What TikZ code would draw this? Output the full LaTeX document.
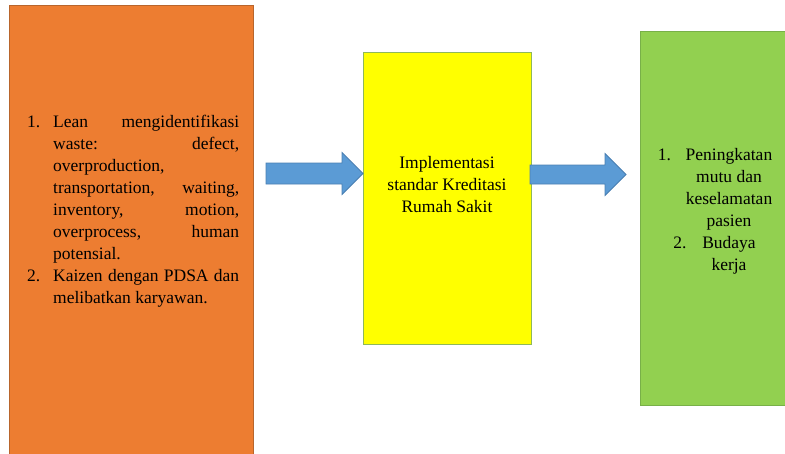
\documentclass[tikz,border=0pt]{standalone}
\usepackage{fontspec}
\setmainfont{Liberation Serif}
\usetikzlibrary{calc}
\definecolor{orangefill}{HTML}{ED7D31}
\definecolor{orangeline}{HTML}{B8652C}
\definecolor{yellowfill}{HTML}{FFFF00}
\definecolor{yellowline}{HTML}{8FB85A}
\definecolor{greenfill}{HTML}{92D050}
\definecolor{greenline}{HTML}{78B048}
\definecolor{arrowfill}{HTML}{5B9BD5}
\definecolor{arrowline}{HTML}{4A7FB2}
\begin{document}
\begin{tikzpicture}[x=1pt,y=-1pt,
  box/.style={rectangle,draw,line width=1pt,inner sep=0pt,anchor=north west},
  boxtext/.style={inner sep=0pt,font=\fontsize{17.5}{22}\selectfont},
  blockarrow/.style={fill=arrowfill,draw=arrowline,line width=0.8pt,line join=miter}]
\useasboundingbox (0,0) rectangle (785,453);
\begin{scope}
\clip (0,0) rectangle (785,453);
\node[box,fill=orangefill,draw=orangeline,minimum width=244pt,minimum height=470pt] (orange) at (9,5) {};
\node[box,fill=yellowfill,draw=yellowline,minimum width=168pt,minimum height=292pt] (yellow) at (363,52) {};
\node[box,fill=greenfill,draw=greenline,minimum width=170pt,minimum height=374pt] (green) at (640,31) {};
\end{scope}
% texts
\node[boxtext,anchor=base west,text width=186pt,align=justify] (otext) at (53,127)
 {\tolerance=10000\hyphenpenalty=10000\noindent\llap{\makebox[26pt][l]{1.}}Lean mengidentifikasi\linebreak
  waste: defect,\linebreak overproduction,\linebreak transportation, waiting,\linebreak
  inventory, motion,\linebreak overprocess, human\linebreak potensial.\par
  \noindent\llap{\makebox[26pt][l]{2.}}Kaizen dengan PDSA dan\linebreak melibatkan karyawan.};
\node[boxtext,anchor=base,align=center] (ytext) at (447,212)
 {Implementasi\\ standar Kreditasi\\ Rumah Sakit};
\node[boxtext,anchor=base,align=center] (gtext) at (729,270)
 {\llap{\makebox[28pt][l]{1.}}Peningkatan\\ mutu dan\\ keselamatan\\ pasien\\
  \llap{\makebox[29pt][l]{2.}}Budaya\\ kerja};
% arrows
\coordinate (a1s) at ($(orange.north east)+(12,168.5)$);
\coordinate (a1e) at (yellow.west |- a1s);
\coordinate (a2s) at ($(yellow.north east)+(-2,122.5)$);
\coordinate (a2e) at ($(green.north west)+(-14,143.5)$);
\draw[blockarrow] ($(a1s)+(0,-10.5)$) -- ($(a1e)+(-21,-10.5)$) -- ($(a1e)+(-21,-21)$) -- (a1e)
  -- ($(a1e)+(-21,21)$) -- ($(a1e)+(-21,10.5)$) -- ($(a1s)+(0,10.5)$) -- cycle;
\draw[blockarrow] ($(a2s)+(0,-9.5)$) -- ($(a2e)+(-21,-9.5)$) -- ($(a2e)+(-21,-21)$) -- (a2e)
  -- ($(a2e)+(-21,21)$) -- ($(a2e)+(-21,9.5)$) -- ($(a2s)+(0,9.5)$) -- cycle;
\end{tikzpicture}
\end{document}
